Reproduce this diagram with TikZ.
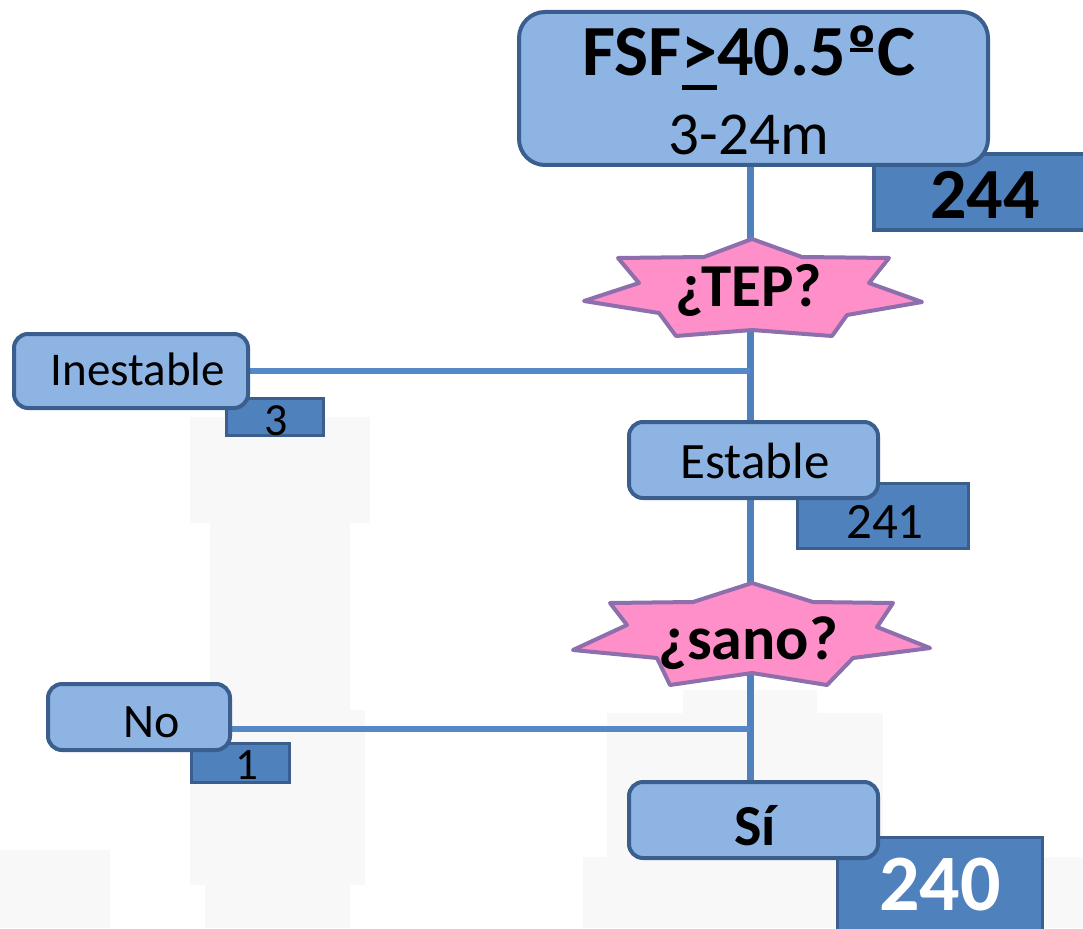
\documentclass[tikz,border=0pt]{standalone}
\usepackage{fontspec}
\setmainfont{Carlito}
\pgfdeclarelayer{bg}
\pgfdeclarelayer{mid}
\pgfsetlayers{bg,mid,main}
\definecolor{boxfill}{HTML}{8EB4E3}
\definecolor{boxline}{HTML}{3A5F8E}
\definecolor{numfill}{HTML}{4F81BD}
\definecolor{linkc}{HTML}{4F81BD}
\definecolor{hlinkc}{HTML}{5588C6}
\definecolor{starfill}{HTML}{FF8FC8}
\definecolor{starline}{HTML}{8C6FAC}
\definecolor{wm}{HTML}{F8F8F8}
\newcommand\fsz[1]{\fontsize{#1}{#1}\selectfont}
\newcommand\ulgt{{\setbox0\hbox{>}\rlap{\rule[-0.19em]{\wd0}{0.07em}}\box0}}
\newcommand\ordo{{\setbox0\hbox{º}\rlap{\hspace{0.06em}\rule[0.33em]{\dimexpr\wd0-0.12em\relax}{0.055em}}\box0}}
\begin{document}
\begin{tikzpicture}[x=1pt,y=-1pt,
  mainbox/.style={draw=boxline,fill=boxfill,line width=4pt,rounded corners=14pt,inner sep=0pt},
  numbox/.style={draw=boxline,fill=numfill,line width=3.5pt,inner sep=0pt},
  link/.style={draw=linkc,line width=7pt},
  hlink/.style={draw=hlinkc,line width=6pt},
  starbox/.style={draw=starline,fill=starfill,line width=4pt,line join=round},
  txt/.style={anchor=base,inner sep=0pt,text=black},
]
\useasboundingbox (0,0) rectangle (1083,928);
\clip (0,0) rectangle (1083,928);

% faint background watermark
\begin{pgfonlayer}{bg}
\fill[wm] (190,417) rectangle (370,523);
\fill[wm] (210,523) rectangle (350,710);
\fill[wm] (190,710) rectangle (365,885);
\fill[wm] (205,885) rectangle (350,928);
\fill[wm] (683,690) rectangle (817,713);
\fill[wm] (607,713) rectangle (883,860);
\fill[wm] (583,857) rectangle (1083,928);
\fill[wm] (0,850) rectangle (110,928);
\end{pgfonlayer}

% number boxes (behind)
\node[numbox,minimum width=214pt,minimum height=76pt] (n244) at (981,192) {};
\node[numbox,minimum width=97pt,minimum height=37pt] (n3) at (275,417) {};
\node[numbox,minimum width=171pt,minimum height=65pt] (n241) at (883,516) {};
\node[numbox,minimum width=98pt,minimum height=39pt] (n1) at (240.5,763) {};
\node[numbox,minimum width=205pt,minimum height=95pt] (n240) at (940,885) {};

% main boxes
\node[mainbox,rounded corners=26pt,minimum width=469pt,minimum height=153pt] (top) at (753.5,88.5) {};
\node[mainbox,minimum width=234pt,minimum height=74pt] (inest) at (131,371) {};
\node[mainbox,minimum width=249pt,minimum height=76pt] (est) at (753.5,460) {};
\node[mainbox,minimum width=182pt,minimum height=66pt] (no) at (139,717) {};
\node[mainbox,minimum width=249pt,minimum height=76pt] (si) at (753.5,820) {};

% stars
\begin{pgfonlayer}{mid}
\draw[starbox,shift={(752,290)}] (0,-51) -- (-48,-33) -- (-134,-32) -- (-113,-7) -- (-168,11) -- (-93,23) -- (-76,46) -- (0,40) -- (80,46) -- (95,25) -- (170,12) -- (117,-7) -- (137,-32) -- (50,-33) -- cycle;
\draw[starbox,shift={(752,635)}] (0,-52) -- (-59,-33) -- (-142,-32) -- (-125,-10) -- (-179,15) -- (-95,23) -- (-82,50) -- (0,38) -- (75,50) -- (101,23) -- (178,13) -- (125,-8) -- (141,-32) -- (61,-33) -- cycle;
\end{pgfonlayer}

% texts
\node[txt,font=\fsz{72}\bfseries] (t1) at (749,76) {FSF\ulgt40.5\ordo C};
\node[txt,font=\fsz{61}] (t2) at (749,155) {3-24m};
\node[txt,font=\fsz{72}\bfseries] (t244) at (985,218) {244};
\node[txt,font=\fsz{61}\bfseries] (tep) at (749,306) {¿TEP?};
\node[txt,font=\fsz{47}] (tinest) at (138,385) {Inestable};
\node[txt,font=\fsz{46}] (t3) at (276,435) {3};
\node[txt,font=\fsz{51}] (test) at (755,478) {Estable};
\node[txt,font=\fsz{51}] (t241) at (885,538) {241};
\node[txt,font=\fsz{62}\bfseries] (sano) at (748,659) {¿sano?};
\node[txt,font=\fsz{48}] (tno) at (152,737) {No};
\node[txt,font=\fsz{45}] (t1n) at (247,779) {1};
\node[txt,font=\fsz{58}\bfseries] (tsi) at (755,845) {Sí};
\node[txt,font=\fsz{80}\bfseries,text=white] (t240) at (940,910) {240};

% connectors
\coordinate (vl) at (750,0);
\begin{pgfonlayer}{bg}
\draw[link] (top.south -| vl) -- (si.north -| vl);
\draw[hlink] (inest.east) -- (inest.east -| vl);
\draw[hlink] ([yshift=-12pt]no.east) -- ([yshift=-12pt]no.east -| vl);
\end{pgfonlayer}
\end{tikzpicture}
\end{document}
